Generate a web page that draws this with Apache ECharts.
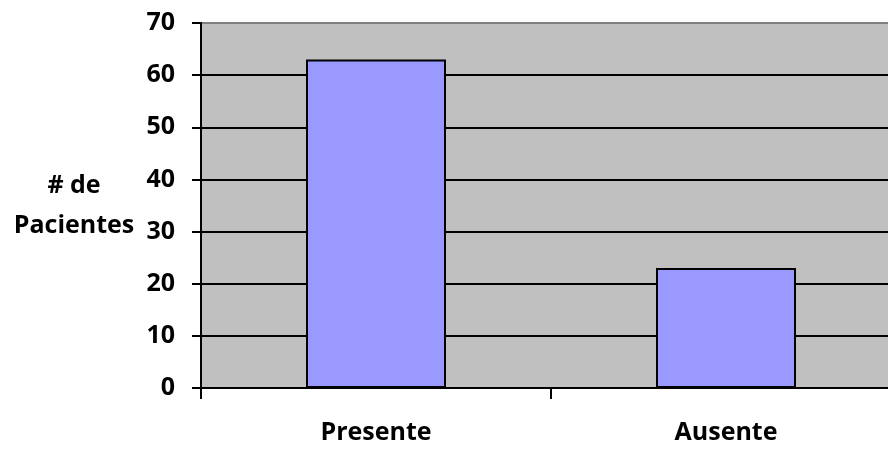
<!DOCTYPE html>
<html><head><meta charset="utf-8">
<script src="https://cdn.jsdelivr.net/npm/echarts@6/dist/echarts.min.js"></script>
<style>html,body{margin:0;padding:0;background:#fff}#c{width:888px;height:450px}</style>
</head><body><div id="c"></div>
<script>
const categories = ['Presente', 'Ausente'];
const pacientes = [63, 23];
const yTicks = [0, 10, 20, 30, 40, 50, 60, 70];

const chart = echarts.init(document.getElementById('c'), null, {renderer: 'canvas'});
const font = 'Open Sans';
chart.setOption({
  animation: false,
  grid: {left: 201, width: 700, top: 23, bottom: 62, show: true, outerBoundsMode: 'none', containLabel: false,
         backgroundColor: '#C0C0C0', borderColor: '#808080', borderWidth: 2},
  xAxis: {
    type: 'category', data: categories,
    axisLine: {lineStyle: {color: '#000', width: 2}},
    axisTick: {show: true, length: 11, lineStyle: {color: '#000', width: 2}},
    axisLabel: {margin: 32, color: '#000', fontFamily: font, fontWeight: 'bold', fontSize: 25}
  },
  yAxis: {
    type: 'value', min: yTicks[0], max: yTicks[yTicks.length - 1], interval: 10,
    name: '# de\nPacientes', nameLocation: 'middle', nameRotate: 0, nameGap: 127,
    nameTextStyle: {color: '#000', fontFamily: font, fontWeight: 'bold', fontSize: 25, lineHeight: 40, align: 'center', verticalAlign: 'middle'},
    axisLine: {show: true, lineStyle: {color: '#000', width: 2}},
    axisTick: {show: true, length: 9, lineStyle: {color: '#000', width: 2}},
    axisLabel: {margin: 26, color: '#000', fontFamily: font, fontWeight: 'bold', fontSize: 25},
    splitLine: {show: true, lineStyle: {color: ['#000','#000','#000','#000','#000','#000','#000','#808080'], width: 2}}
  },
  series: [{
    type: 'bar', data: pacientes, barWidth: '40%',
    itemStyle: {color: '#9999FF', borderColor: '#000', borderWidth: 2}
  }]
});
</script></body></html>
